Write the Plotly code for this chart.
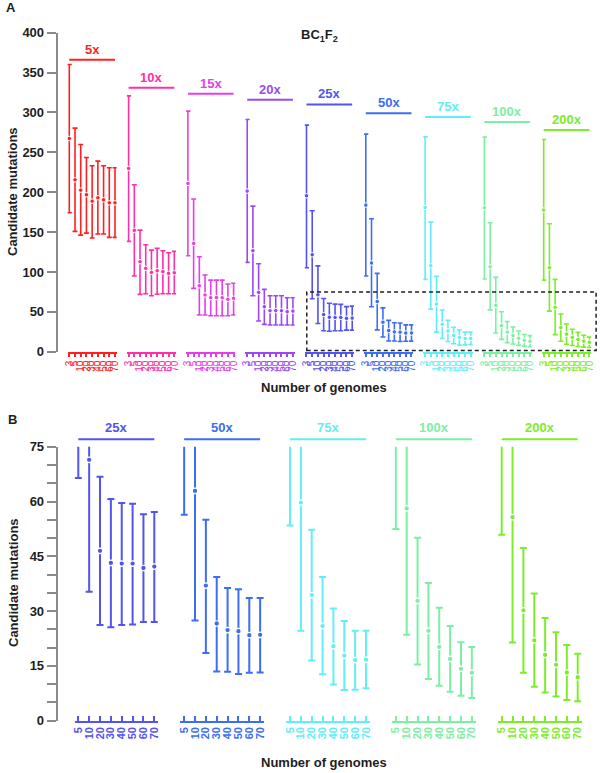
import plotly.graph_objects as go

W, H = 600, 773
FONT = "Liberation Sans, Arial, Helvetica, sans-serif"
DARK = "#1e1e1e"

# coverage groups and colours
COVERAGE = ["5x", "10x", "15x", "20x", "25x", "50x", "75x", "100x", "200x"]
COLORS = ["#ff1f1f", "#ff2fa6", "#e43fe8", "#9d48f2", "#5353f0",
          "#3c6df2", "#62eef6", "#7cf0a2", "#7ced2a"]

# number of genomes (x categories)
GENOMES_A = ["3", "5", "10", "20", "30", "40", "50", "60", "70"]
GENOMES_B = GENOMES_A[1:]

# candidate mutations: mean, upper and lower whisker per coverage group
MEANS = [
    [267.4, 215.5, 202.6, 196.8, 188.8, 193.0, 190.5, 186.7, 186.7],
    [229.8, 152.1, 112.8, 104.5, 99.5, 101.5, 100.3, 98.2, 99.0],
    [211.0, 135.8, 82.7, 71.1, 67.7, 67.9, 67.7, 65.7, 67.0],
    [201.4, 126.6, 74.4, 56.4, 51.4, 51.6, 51.4, 50.1, 50.9],
    [195.5, 121.6, 71.4, 46.5, 43.2, 43.0, 43.0, 41.8, 42.2],
    [183.8, 111.2, 62.9, 37.0, 26.6, 24.8, 24.5, 23.4, 23.5],
    [180.9, 107.8, 59.7, 34.4, 25.9, 20.4, 17.8, 16.6, 16.7],
    [180.5, 106.5, 58.1, 32.8, 24.6, 20.2, 16.9, 14.2, 13.1],
    [177.6, 105.3, 55.7, 30.2, 22.0, 18.0, 15.3, 13.2, 11.9],
]
UPPERS = [
    [360.1, 280.3, 259.9, 243.6, 233.1, 239.0, 233.1, 230.6, 230.6],
    [320.8, 209.3, 152.5, 134.1, 127.4, 129.6, 126.6, 124.1, 125.8],
    [301.6, 191.4, 119.0, 96.1, 89.8, 89.8, 89.8, 84.8, 85.8],
    [291.2, 182.6, 110.3, 78.2, 70.2, 70.2, 70.2, 67.7, 67.7],
    [284.1, 176.7, 107.6, 66.8, 60.7, 59.6, 59.4, 56.5, 57.1],
    [272.8, 166.7, 98.2, 55.0, 39.3, 36.3, 36.0, 33.6, 33.6],
    [269.4, 162.5, 94.5, 52.3, 39.3, 30.7, 27.3, 24.6, 24.6],
    [269.0, 161.7, 93.2, 50.1, 37.7, 30.9, 25.9, 21.5, 20.2],
    [266.1, 160.4, 90.7, 47.3, 34.8, 28.1, 24.2, 20.7, 18.3],
]
LOWERS = [
    [174.2, 150.9, 146.2, 148.7, 142.5, 147.5, 147.5, 143.3, 143.3],
    [138.3, 94.9, 71.9, 72.7, 70.2, 72.0, 72.7, 72.7, 72.7],
    [120.3, 79.4, 46.0, 46.0, 45.1, 45.1, 45.1, 45.1, 46.0],
    [112.0, 70.2, 38.5, 34.3, 33.5, 33.5, 33.5, 33.5, 33.5],
    [105.3, 66.4, 35.3, 26.2, 25.6, 26.2, 26.3, 27.0, 27.0],
    [94.9, 56.4, 27.4, 18.5, 13.5, 13.4, 12.8, 13.1, 13.2],
    [90.7, 53.4, 24.6, 16.5, 12.7, 9.9, 8.4, 8.5, 8.9],
    [91.1, 52.5, 23.5, 15.4, 11.4, 9.6, 7.9, 6.8, 6.2],
    [89.8, 50.9, 21.4, 13.1, 9.3, 7.7, 6.6, 5.7, 5.3],
]
B_GROUPS = [4, 5, 6, 7, 8]  # 25x .. 200x shown in the zoomed panel

# header levels (layout) of the coverage labels in panel A
HEADER_A = [366, 331, 323.5, 316, 310, 299, 294.3, 288, 278]

# pixel layout
A_TOP, A_BOT = 32.7, 351.7
B_TOP, B_BOT = 446.7, 720.7
YAXIS_X = 56.7


def px(p):
    return p / W


def py(p):
    return 1 - p / H


def axid(n):
    return "x" if n == 1 else f"x{n}"


def main():
    fig = go.Figure()
    layout = {}
    annotations = []
    shapes = []

    dom_a = [py(A_BOT), py(A_TOP)]
    dom_b = [py(B_BOT), py(B_TOP)]

    def ya(v):
        return dom_a[0] + v / 400 * (dom_a[1] - dom_a[0])

    axis_grey = "#8a8a8a"
    yax_common = dict(
        anchor="free", position=px(YAXIS_X), showline=True, linecolor=axis_grey,
        linewidth=2, ticks="outside", ticklen=9, tickwidth=1.5, tickcolor=axis_grey,
        showgrid=False, zeroline=False, fixedrange=True, tickmode="linear", tick0=0,
        tickfont=dict(family=FONT, size=13, color=DARK, weight="bold"),
    )
    layout["yaxis"] = dict(yax_common, domain=dom_a, range=[0, 400], dtick=50)
    layout["yaxis2"] = dict(
        yax_common, domain=dom_b, range=[0, 75], dtick=15,
        minor=dict(dtick=5, tick0=0, ticks="outside", ticklen=9, tickwidth=1.5,
                   tickcolor=axis_grey, showgrid=False),
    )

    # ---- panel A
    pad_a = 0.3
    ax_doms = []
    for g, cov in enumerate(COVERAGE):
        c = COLORS[g]
        first = 69.3 + 59.3 * g
        span = 45.7
        step = span / 8
        dom = [px(first - pad_a * step), px(first + span + pad_a * step)]
        ax_doms.append(dom)
        n = g + 1
        xid = axid(n)
        layout["xaxis" if n == 1 else f"xaxis{n}"] = dict(
            domain=dom, anchor="y", type="category", range=[-pad_a, 8 + pad_a],
            tickmode="array", tickvals=GENOMES_A, ticktext=GENOMES_A,
            showline=True, linecolor=c, linewidth=2, ticks="outside", ticklen=3,
            tickwidth=1.5, tickcolor=c, tickangle=-90, showgrid=False, zeroline=False,
            tickfont=dict(family=FONT, size=10, color=c), fixedrange=True,
        )
        mean = MEANS[g]
        fig.add_trace(go.Scatter(
            x=GENOMES_A, y=mean, xaxis=xid, yaxis="y", mode="markers",
            marker=dict(size=4.5, color=c, line=dict(color="white", width=1)),
            error_y=dict(type="data", symmetric=False,
                         array=[u - m for u, m in zip(UPPERS[g], mean)],
                         arrayminus=[m - l for m, l in zip(mean, LOWERS[g])],
                         color=c, thickness=1.6, width=2.5),
            showlegend=False, hoverinfo="skip",
        ))
        f = pad_a / (8 + 2 * pad_a)
        shapes.append(dict(type="line", xref=f"{xid} domain", yref="paper",
                           x0=f, x1=1 - f, y0=ya(HEADER_A[g]), y1=ya(HEADER_A[g]),
                           line=dict(color=c, width=2)))
        annotations.append(dict(text=f"<b>{cov}</b>", xref=f"{xid} domain", yref="paper",
                                x=0.5, y=ya(HEADER_A[g]), yanchor="bottom", yshift=1,
                                showarrow=False, font=dict(family=FONT, size=13, color=c)))

    # dashed box marking the zoomed region
    shapes.append(dict(type="rect", xref="paper", yref="paper",
                       x0=ax_doms[4][0] + px(2), x1=ax_doms[8][1] + px(5),
                       y0=ya(1.5), y1=ya(75),
                       line=dict(color="#222222", width=1.5, dash="4px,3px")))

    # ---- panel B
    pad_b = 0.35
    for k, g in enumerate(B_GROUPS):
        c = COLORS[g]
        first = 78.3 + 105.85 * k
        span = 76.0
        step = span / 7
        dom = [px(first - pad_b * step), px(first + span + pad_b * step)]
        n = 10 + k
        xid = axid(n)
        layout[f"xaxis{n}"] = dict(
            domain=dom, anchor="y2", type="category", range=[-pad_b, 7 + pad_b],
            tickmode="array", tickvals=GENOMES_B, ticktext=GENOMES_B,
            showline=True, linecolor=c, linewidth=2, ticks="inside", ticklen=5,
            tickwidth=1.5, tickcolor=c, tickangle=-90, showgrid=False, zeroline=False,
            tickfont=dict(family=FONT, size=11, color=c, weight="bold"), fixedrange=True,
        )
        mean = MEANS[g][1:]
        fig.add_trace(go.Scatter(
            x=GENOMES_B, y=mean, xaxis=xid, yaxis="y2", mode="markers",
            marker=dict(size=5.5, color=c, line=dict(color="white", width=1.2)),
            error_y=dict(type="data", symmetric=False,
                         array=[u - m for u, m in zip(UPPERS[g][1:], mean)],
                         arrayminus=[m - l for m, l in zip(mean, LOWERS[g][1:])],
                         color=c, thickness=2, width=3.5),
            showlegend=False, hoverinfo="skip",
        ))
        f = pad_b / (7 + 2 * pad_b)
        shapes.append(dict(type="line", xref=f"{xid} domain", yref="paper",
                           x0=f, x1=1 - f, y0=py(439.3), y1=py(439.3),
                           line=dict(color=c, width=2)))
        annotations.append(dict(text=f"<b>{COVERAGE[g]}</b>", xref=f"{xid} domain",
                                yref="paper", x=0.5, y=py(439.3), yanchor="bottom",
                                yshift=2, showarrow=False,
                                font=dict(family=FONT, size=13, color=c)))

    # ---- texts
    def label(text, x, y, size=13, angle=0):
        annotations.append(dict(text=text, xref="paper", yref="paper", x=px(x), y=py(y),
                                xanchor="center", yanchor="middle", showarrow=False,
                                textangle=angle,
                                font=dict(family=FONT, size=size, color=DARK, weight="bold")))

    label("A", 11, 7, 13)
    label("B", 12, 419, 13)
    label("BC<sub>1</sub>F<sub>2</sub>", 319, 35, 13)
    label("Candidate mutations", 13, 192, 13, -90)
    label("Candidate mutations", 13, 583, 13, -90)
    label("Number of genomes", 324, 387, 13)
    label("Number of genomes", 324, 762, 13)

    fig.update_layout(
        width=W, height=H,
        margin=dict(l=0, r=0, t=0, b=0, autoexpand=False),
        paper_bgcolor="white", plot_bgcolor="white",
        annotations=annotations, shapes=shapes, **layout,
    )
    # page body margin would offset the fixed-size figure
    fig.write_html("out.html", config={"displayModeBar": False},
                   post_script="document.body.style.margin='0';")


if __name__ == "__main__":
    main()
